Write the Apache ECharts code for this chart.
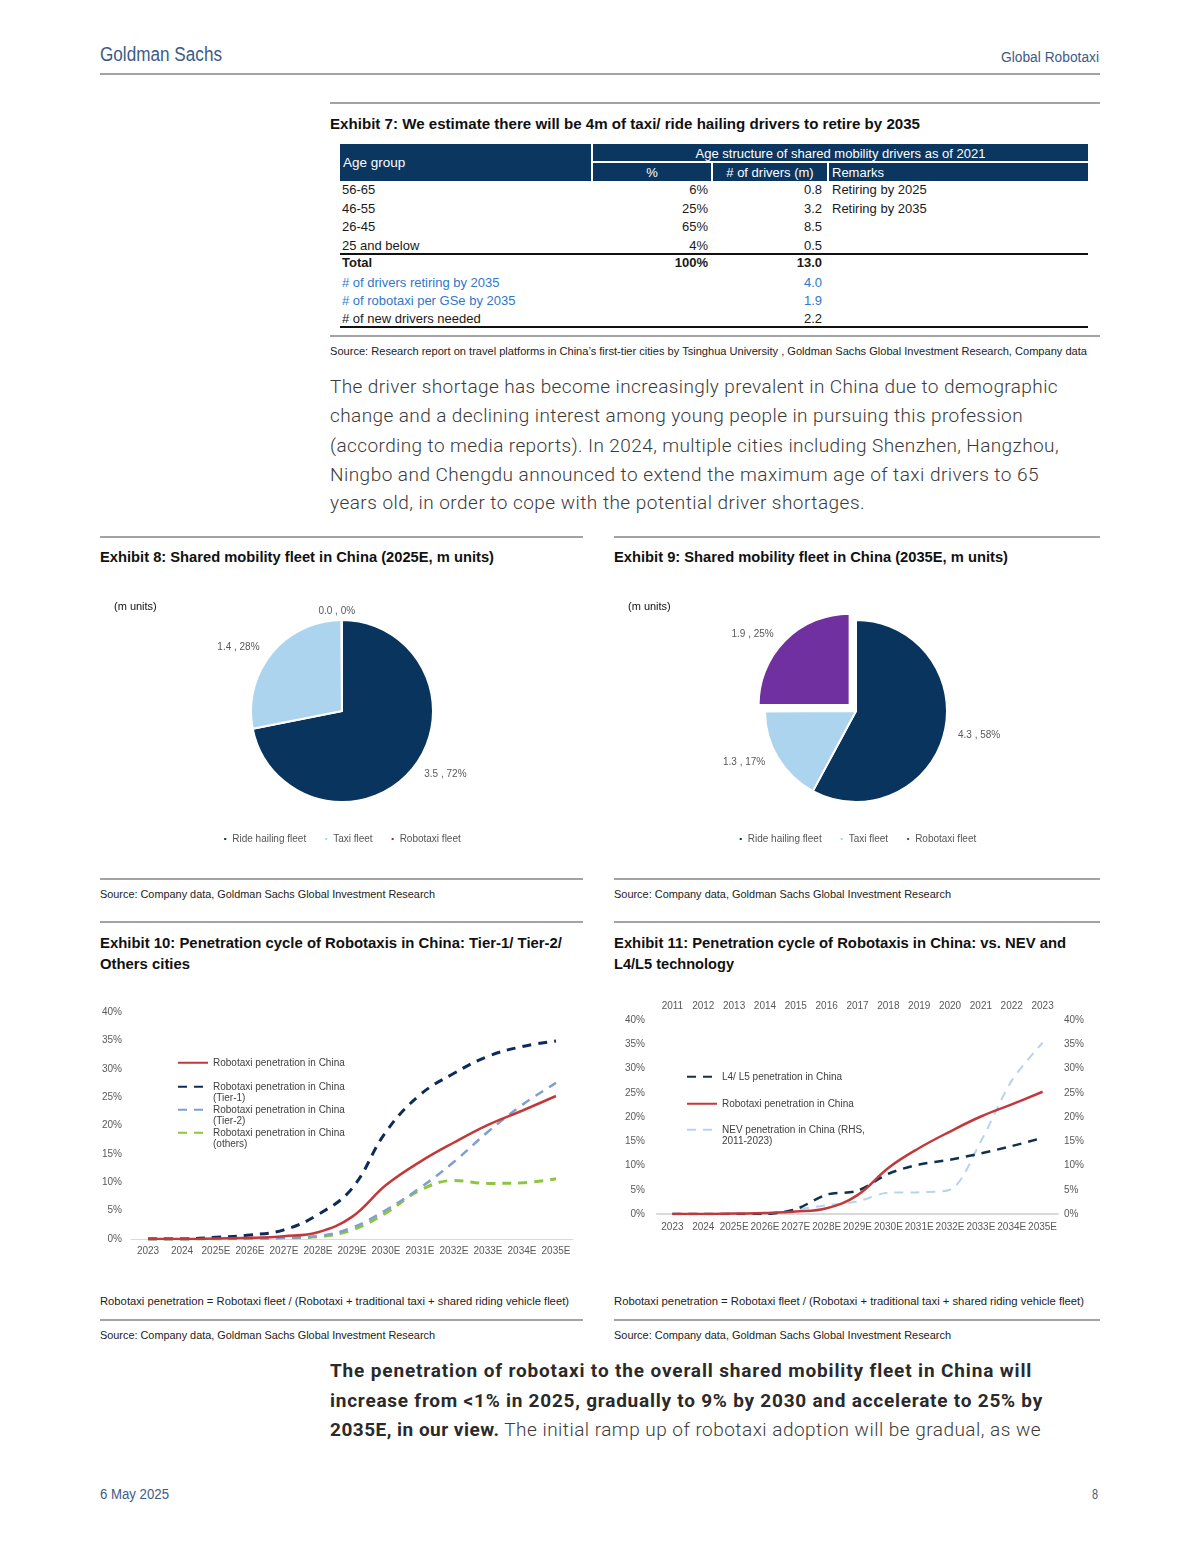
<!DOCTYPE html>
<html><head><meta charset="utf-8">
<script src="https://cdn.jsdelivr.net/npm/echarts/dist/echarts.min.js"></script>
<style>
html,body{margin:0;padding:0;background:#fff;}
#page{position:relative;width:1200px;height:1555px;overflow:hidden;font-family:"Liberation Sans",Arial,sans-serif;color:#1a1a1a;}
.t{position:absolute;white-space:nowrap;transform-origin:0 50%;line-height:1;}
.rule{position:absolute;height:2px;background:#a3a3a3;}
.blk{position:absolute;height:2px;background:#111;}
.hd{position:absolute;background:#0b3660;color:#fff;font-size:13px;line-height:1;}
.hd span{position:absolute;white-space:nowrap;top:50%;transform:translateY(-50%);}
.title{font-weight:bold;font-size:15.5px;color:#111;}
.src{font-size:11.5px;color:#222;}
.para{font-family:Roboto,"Open Sans",sans-serif;font-weight:300;font-size:19px;color:#3a3a3a;}
.bpara{font-family:Roboto,"Open Sans",sans-serif;font-weight:700;font-size:19px;color:#2a2a2a;}
.bpara .n{font-weight:300;color:#3a3a3a;}
.gs{color:#3d5b84;}
.chart{position:absolute;}
.cell{position:absolute;white-space:nowrap;font-size:13px;line-height:1;}
</style>
</head><body>
<div id="page">
  <!-- header -->
  <div class="t gs" style="left:100px;top:44px;font-size:20px;" data-w="122">Goldman Sachs</div>
  <div class="t gs" style="left:1001px;top:50px;font-size:14px;" data-w="98">Global Robotaxi</div>
  <div class="rule" style="left:100px;top:73px;width:1000px;"></div>

  <!-- Exhibit 7 -->
  <div class="rule" style="left:330px;top:102px;width:770px;"></div>
  <div class="t title" style="left:330px;top:116px;" data-w="590">Exhibit 7: We estimate there will be 4m of taxi/ ride hailing drivers to retire by 2035</div>
  <div id="table"></div>
  <div class="rule" style="left:330px;top:335px;width:770px;"></div>
  <div class="t src" style="left:330px;top:346px;" data-w="757">Source: Research report on travel platforms in China’s first-tier cities by Tsinghua University , Goldman Sachs Global Investment Research, Company data</div>

  <div class="t para" style="left:330px;top:377px;" data-w="728" data-mode="ls">The driver shortage has become increasingly prevalent in China due to demographic</div>
  <div class="t para" style="left:330px;top:406px;" data-w="693" data-mode="ls">change and a declining interest among young people in pursuing this profession</div>
  <div class="t para" style="left:330px;top:436px;" data-w="729" data-mode="ls">(according to media reports). In 2024, multiple cities including Shenzhen, Hangzhou,</div>
  <div class="t para" style="left:330px;top:465px;" data-w="709" data-mode="ls">Ningbo and Chengdu announced to extend the maximum age of taxi drivers to 65</div>
  <div class="t para" style="left:330px;top:493px;" data-w="535" data-mode="ls">years old, in order to cope with the potential driver shortages.</div>

  <!-- Exhibits 8/9 -->
  <div class="rule" style="left:100px;top:536px;width:483px;"></div>
  <div class="rule" style="left:614px;top:536px;width:486px;"></div>
  <div class="t title" style="left:100px;top:549px;" data-w="394">Exhibit 8: Shared mobility fleet in China (2025E, m units)</div>
  <div class="t title" style="left:614px;top:549px;" data-w="394">Exhibit 9: Shared mobility fleet in China (2035E, m units)</div>
  <div id="pie1" class="chart" style="left:100px;top:580px;width:483px;height:290px;"></div>
  <div id="pie2" class="chart" style="left:614px;top:580px;width:486px;height:290px;"></div>
  <div class="rule" style="left:100px;top:878px;width:483px;"></div>
  <div class="rule" style="left:614px;top:878px;width:486px;"></div>
  <div class="t src" style="left:100px;top:889px;" data-w="335">Source: Company data, Goldman Sachs Global Investment Research</div>
  <div class="t src" style="left:614px;top:889px;" data-w="337">Source: Company data, Goldman Sachs Global Investment Research</div>

  <!-- Exhibits 10/11 -->
  <div class="rule" style="left:100px;top:921px;width:483px;"></div>
  <div class="rule" style="left:614px;top:921px;width:486px;"></div>
  <div class="t title" style="left:100px;top:935px;" data-w="462">Exhibit 10: Penetration cycle of Robotaxis in China: Tier-1/ Tier-2/</div>
  <div class="t title" style="left:100px;top:956px;" data-w="90">Others cities</div>
  <div class="t title" style="left:614px;top:935px;" data-w="452">Exhibit 11: Penetration cycle of Robotaxis in China: vs. NEV and</div>
  <div class="t title" style="left:614px;top:956px;" data-w="120">L4/L5 technology</div>
  <div id="line1" class="chart" style="left:100px;top:995px;width:483px;height:270px;"></div>
  <div id="line2" class="chart" style="left:614px;top:995px;width:486px;height:270px;"></div>
  <div class="t src" style="left:100px;top:1296px;" data-w="469">Robotaxi penetration = Robotaxi fleet / (Robotaxi + traditional taxi + shared riding vehicle fleet)</div>
  <div class="t src" style="left:614px;top:1296px;" data-w="470">Robotaxi penetration = Robotaxi fleet / (Robotaxi + traditional taxi + shared riding vehicle fleet)</div>
  <div class="rule" style="left:100px;top:1319px;width:483px;"></div>
  <div class="rule" style="left:614px;top:1319px;width:486px;"></div>
  <div class="t src" style="left:100px;top:1330px;" data-w="335">Source: Company data, Goldman Sachs Global Investment Research</div>
  <div class="t src" style="left:614px;top:1330px;" data-w="337">Source: Company data, Goldman Sachs Global Investment Research</div>

  <div class="t bpara" style="left:330px;top:1361px;" data-w="702" data-mode="ls">The penetration of robotaxi to the overall shared mobility fleet in China will</div>
  <div class="t bpara" style="left:330px;top:1391px;" data-w="713" data-mode="ls">increase from &lt;1% in 2025, gradually to 9% by 2030 and accelerate to 25% by</div>
  <div class="t bpara" style="left:330px;top:1420px;" data-w="711" data-mode="ls">2035E, in our view.<span class="n"> The initial ramp up of robotaxi adoption will be gradual, as we</span></div>

  <!-- footer -->
  <div class="t gs" style="left:100px;top:1487px;font-size:14px;" data-w="69">6 May 2025</div>
  <div class="t gs" style="left:1092px;top:1487px;font-size:14px;" data-w="6">8</div>
</div>

<script>
// ---------------- DATA ----------------
// Exhibit 7 table
const ageGroups   = ['56-65', '46-55', '26-45', '25 and below'];
const agePct      = ['6%', '25%', '65%', '4%'];
const ageDrivers  = [0.8, 3.2, 8.5, 0.5];
const ageRemarks  = ['Retiring by 2025', 'Retiring by 2035', '', ''];
const totalRow    = ['Total', '100%', 13.0];
const summaryLabels = ['# of drivers retiring by 2035', '# of robotaxi per GSe by 2035', '# of new drivers needed'];
const summaryValues = [4.0, 1.9, 2.2];

// Exhibits 8/9 pies (m units)
const fleetNames = ['Ride hailing fleet', 'Taxi fleet', 'Robotaxi fleet'];
const fleet2025  = [3.54, 1.38, 0.004];
const fleet2035  = [4.34, 1.28, 1.88];

// Exhibit 10 / 11 (penetration, %)
const years      = ['2023','2024','2025E','2026E','2027E','2028E','2029E','2030E','2031E','2032E','2033E','2034E','2035E'];
const robotaxiPen = [0, 0, 0.1, 0.2, 0.5, 1.2, 3.9, 9.5, 13.6, 17.0, 20.1, 22.6, 25.2];
const tier1Pen    = [0, 0, 0.3, 0.7, 1.6, 4.3, 8.9, 18.9, 25.4, 29.2, 32.2, 33.9, 34.9];
const tier2Pen    = [0, 0, 0, 0.1, 0.2, 0.5, 2.0, 5.1, 9.0, 13.6, 18.9, 23.6, 27.5];
const othersPen   = [0, 0, 0, 0.1, 0.2, 0.4, 1.6, 4.6, 8.6, 10.3, 9.8, 9.9, 10.6];
const l4l5Pen     = [0, 0, 0, 0, 1.0, 4.0, 4.8, 8.3, 10.2, 11.2, 12.5, 14.0, 15.7];
const nevYears    = ['2011','2012','2013','2014','2015','2016','2017','2018','2019','2020','2021','2022','2023'];
const nevPen      = [0, 0, 0, 0.2, 0.9, 1.8, 2.6, 4.4, 4.5, 5.0, 15.0, 27.5, 35.3];
const yTicksMax = 40, yTickStep = 5;

// ---------------- TABLE ----------------
(function buildTable(){
  const page = document.getElementById('page');
  function add(cls, style, html){ const d=document.createElement('div'); d.className=cls; d.setAttribute('style',style); d.innerHTML=html||''; page.appendChild(d); return d; }
  add('hd','left:340px;top:144px;width:251px;height:37px;','<span style="left:3px;font-size:13.5px;">Age group</span>');
  add('hd','left:593px;top:144px;width:495px;height:17px;','<span style="left:0;right:0;text-align:center;">Age structure of shared mobility drivers as of 2021</span>');
  add('hd','left:593px;top:163px;width:118px;height:18px;','<span style="left:0;right:0;text-align:center;">%</span>');
  add('hd','left:713px;top:163px;width:114px;height:18px;','<span style="left:0;right:0;text-align:center;">&#35; of drivers (m)</span>');
  add('hd','left:829px;top:163px;width:259px;height:18px;','<span style="left:3px;">Remarks</span>');
  const rowY = [183, 201.5, 220, 238.5];
  ageGroups.forEach((g,i)=>{
    add('cell','left:342px;top:'+rowY[i]+'px;',g);
    add('cell','right:'+(1200-708)+'px;top:'+rowY[i]+'px;',agePct[i]);
    add('cell','right:'+(1200-822)+'px;top:'+rowY[i]+'px;',ageDrivers[i].toFixed(1));
    if (ageRemarks[i]) add('cell','left:832px;top:'+rowY[i]+'px;',ageRemarks[i]);
  });
  add('blk','left:340px;top:253px;width:748px;');
  add('cell','left:342px;top:256px;font-weight:bold;',totalRow[0]);
  add('cell','right:'+(1200-708)+'px;top:256px;font-weight:bold;',totalRow[1]);
  add('cell','right:'+(1200-822)+'px;top:256px;font-weight:bold;',totalRow[2].toFixed(1));
  const sumY = [275.5, 294, 312];
  summaryLabels.forEach((l,i)=>{
    const c = i<2 ? 'color:#2f78c8;' : '';
    add('cell','left:342px;top:'+sumY[i]+'px;'+c,l);
    add('cell','right:'+(1200-822)+'px;top:'+sumY[i]+'px;'+c,summaryValues[i].toFixed(1));
  });
  add('blk','left:340px;top:326px;width:748px;');
})();

// ---------------- TEXT FIT ----------------
document.querySelectorAll('[data-w]').forEach(el=>{
  const target = +el.dataset.w;
  const w = el.getBoundingClientRect().width;
  if (!w) return;
  if (el.dataset.mode === 'ls') {
    const n = el.textContent.length;
    el.style.letterSpacing = ((target - w) / n) + 'px';
  } else {
    el.style.transform = 'scaleX(' + (target / w) + ')';
  }
});

// ---------------- CHARTS ----------------
const FONT = '"Liberation Sans", Arial, sans-serif';
const fleetColors = ['#08345e', '#add4ef', '#7030a0'];

function pieOption(values, selectIdx){
  return {
    animation: false,
    textStyle: {fontFamily: FONT},
    title: {text: '(m units)', left: 14, top: 21, padding: 0,
      textStyle: {fontSize: 11, fontWeight: 'normal', color: '#111', fontFamily: FONT}},
    legend: {top: 254, left: 'center', padding: 0, icon: 'rect', itemWidth: 4, itemHeight: 4, itemGap: 17,
      selectedMode: false, textStyle: {fontSize: 10, color: '#555', fontFamily: FONT},
      data: fleetNames},
    series: [{
      type: 'pie', center: [242, 131], radius: [0, 91], startAngle: 90, clockwise: true,
      selectedMode: 'multiple', selectedOffset: 9, avoidLabelOverlap: false,
      itemStyle: {borderColor: '#fff', borderWidth: 2},
      emphasis: {disabled: true},
      label: {show: true, position: 'outside', fontSize: 10, color: '#595959', fontFamily: FONT,
        formatter: p => p.value.toFixed(1) + ' , ' + Math.round(p.percent) + '%'},
      labelLine: {show: false, length: 9, length2: 0},
      labelLayout: p => (p.dataIndex === 2 && values[2] < 0.01) ? {align: 'center'} : {},
      data: fleetNames.map((n, i) => ({name: n, value: values[i], selected: i === selectIdx,
        itemStyle: {color: fleetColors[i]}}))
    }]
  };
}
echarts.init(document.getElementById('pie1'), null, {renderer: 'canvas'}).setOption(pieOption(fleet2025, -1));
echarts.init(document.getElementById('pie2'), null, {renderer: 'canvas'}).setOption(pieOption(fleet2035, 2));

const axisLabelStyle = {fontSize: 10, color: '#595959', fontFamily: FONT};
// display: array of text lines; multi-line items get a blank leading line so the
// first line sits level with the legend line sample
function legendItem(name, display, left, top, itemWidth){
  const txt = display.length > 1 ? ' \n' + display.join('\n') : display[0];
  return {left: left, top: top, padding: 0, orient: 'vertical', itemWidth: itemWidth, itemHeight: 10,
    selectedMode: false, data: [name], formatter: () => txt,
    itemStyle: {opacity: 0},
    textStyle: {fontSize: 10, color: '#404040', fontFamily: FONT, lineHeight: 11.5}};
}
function lineSeries(name, data, color, width, dash, extra){
  return Object.assign({type: 'line', name: name, data: data, symbol: 'none', showSymbol: false, smooth: 0.4,
    lineStyle: {color: color, width: width, type: dash}, itemStyle: {color: color},
    emphasis: {disabled: true}}, extra || {});
}

// Exhibit 10
const n10 = ['Robotaxi penetration in China', 'Robotaxi penetration in China (Tier-1)',
  'Robotaxi penetration in China (Tier-2)', 'Robotaxi penetration in China (others)'];
echarts.init(document.getElementById('line1')).setOption({
  animation: false,
  textStyle: {fontFamily: FONT},
  grid: {left: 31, right: 10, top: 17, bottom: 26, containLabel: false, outerBoundsMode: 'none'},
  legend: [
    legendItem(n10[0], ['Robotaxi penetration in China'], 77, 62, 30),
    legendItem(n10[1], ['Robotaxi penetration in China', '(Tier-1)'], 77, 74.5, 30),
    legendItem(n10[2], ['Robotaxi penetration in China', '(Tier-2)'], 77, 97.5, 30),
    legendItem(n10[3], ['Robotaxi penetration in China', '(others)'], 77, 120.5, 30)
  ],
  xAxis: {type: 'category', data: years, boundaryGap: true,
    axisLine: {lineStyle: {color: '#d9d9d9', width: 1}}, axisTick: {show: false},
    axisLabel: Object.assign({interval: 0, margin: 7, hideOverlap: false}, axisLabelStyle)},
  yAxis: {type: 'value', min: 0, max: yTicksMax, interval: yTickStep, splitLine: {show: false},
    axisLine: {show: false}, axisTick: {show: false},
    axisLabel: Object.assign({formatter: '{value}%', margin: 9}, axisLabelStyle)},
  series: [
    lineSeries(n10[3], othersPen, '#8cc63f', 3, [9, 7]),
    lineSeries(n10[2], tier2Pen, '#7f9fcf', 2.5, [9, 7]),
    lineSeries(n10[1], tier1Pen, '#0c2b5b', 3, [9, 7]),
    lineSeries(n10[0], robotaxiPen, '#c3393b', 2.5, 'solid')
  ]
});

// Exhibit 11
const n11 = ['L4/ L5 penetration in China', 'Robotaxi penetration in China', 'NEV penetration in China (RHS, 2011-2023)'];
echarts.init(document.getElementById('line2')).setOption({
  animation: false,
  textStyle: {fontFamily: FONT},
  grid: {left: 43, right: 42, top: 25, bottom: 51, containLabel: false, outerBoundsMode: 'none'},
  legend: [
    legendItem(n11[0], ['L4/ L5 penetration in China'], 72, 76, 30),
    legendItem(n11[1], ['Robotaxi penetration in China'], 72, 103, 30),
    legendItem(n11[2], ['NEV penetration in China (RHS,', '2011-2023)'], 72, 117.5, 30)
  ],
  xAxis: [
    {type: 'category', data: years, boundaryGap: true, position: 'bottom',
      axisLine: {lineStyle: {color: '#d9d9d9', width: 1}}, axisTick: {show: false},
      axisLabel: Object.assign({interval: 0, margin: 8, hideOverlap: false}, axisLabelStyle)},
    {type: 'category', data: nevYears, boundaryGap: true, position: 'top',
      axisLine: {lineStyle: {color: '#d9d9d9', width: 2}}, axisTick: {show: false},
      axisLabel: Object.assign({interval: 0, margin: 9, hideOverlap: false}, axisLabelStyle)}
  ],
  yAxis: [
    {type: 'value', min: 0, max: yTicksMax, interval: yTickStep, splitLine: {show: false},
      axisLine: {show: false}, axisTick: {show: false},
      axisLabel: Object.assign({formatter: '{value}%', margin: 12}, axisLabelStyle)},
    {type: 'value', min: 0, max: yTicksMax, interval: yTickStep, position: 'right', splitLine: {show: false},
      axisLine: {show: false}, axisTick: {show: false},
      axisLabel: Object.assign({formatter: '{value}%', margin: 6}, axisLabelStyle)}
  ],
  series: [
    lineSeries(n11[2], nevPen, '#b5d5ee', 2, [9, 7], {xAxisIndex: 1, yAxisIndex: 1, smooth: 0.3}),
    lineSeries(n11[0], l4l5Pen, '#10304f', 2.5, [9, 7], {smooth: 0.3}),
    lineSeries(n11[1], robotaxiPen, '#c3393b', 2.5, 'solid')
  ]
});
</script>
</body></html>
